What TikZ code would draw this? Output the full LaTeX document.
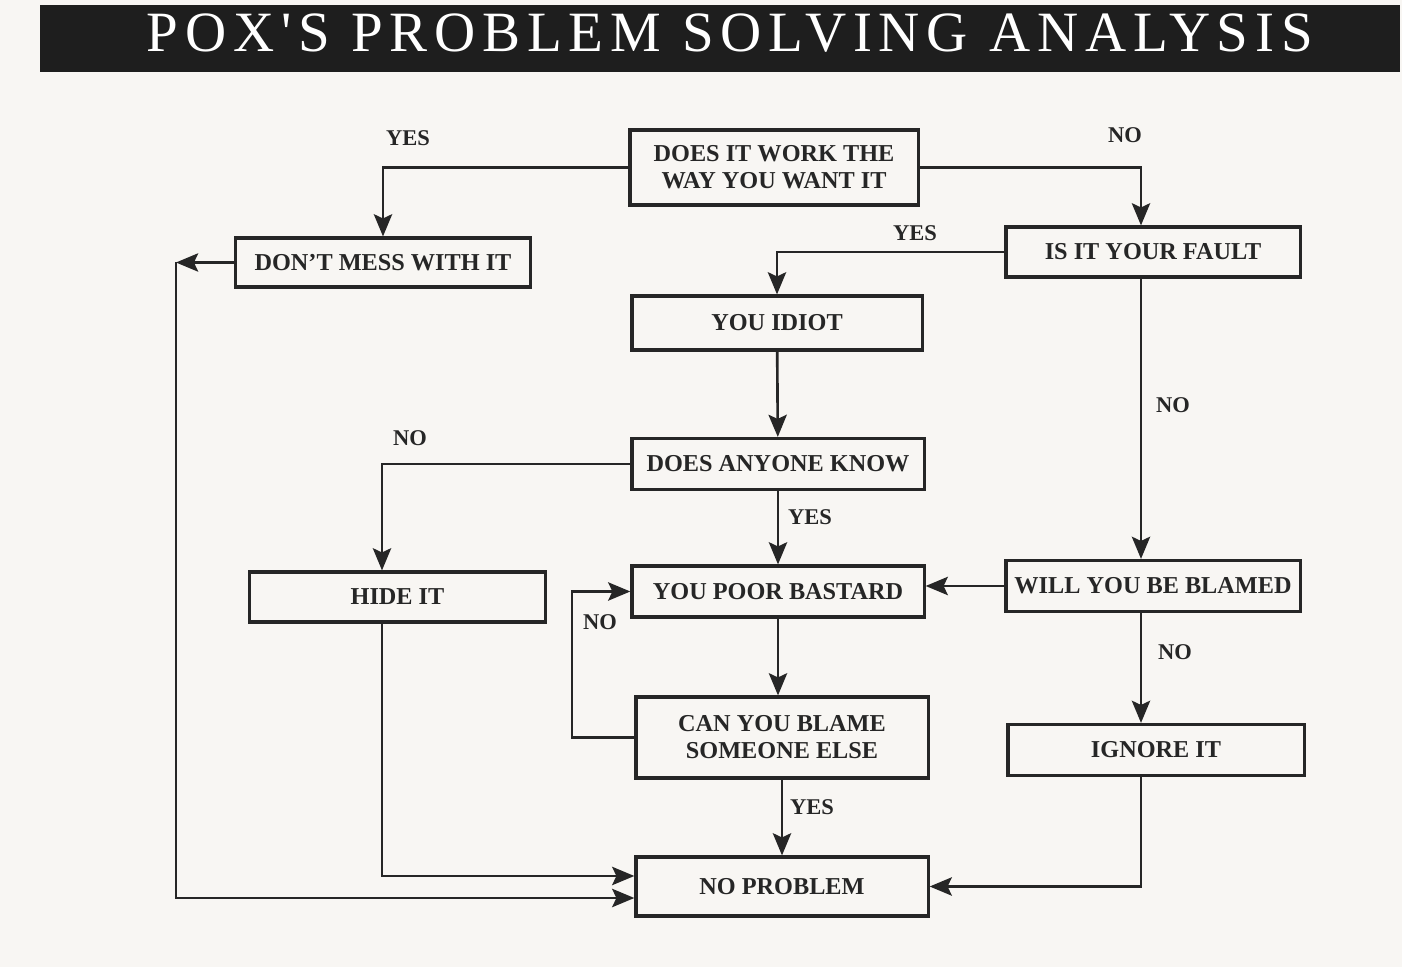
\documentclass[tikz,border=0pt]{standalone}
\usepackage{fontspec}
\setmainfont{Liberation Serif}
\newfontfamily\titlefont[LetterSpace=12]{Liberation Serif}
\usepackage{tikz}
\usetikzlibrary{positioning}
\usetikzlibrary{arrows.meta}
\definecolor{ink}{HTML}{262626}
\definecolor{paper}{HTML}{F8F6F3}

\begin{document}
\begin{tikzpicture}[x=0.01cm,y=-0.01cm]
    \fill[paper] (0,0) rectangle (1402,967);
    \useasboundingbox (0,0) rectangle (1402,967);
    %Title
    \fill[ink!80!black] (40,5) rectangle (1400,72);
    \node[text=white,anchor=base,inner sep=0pt,font=\titlefont\fontsize{16.2}{20}\selectfont] (title) at (730,52) {POX'S PROBLEM SOLVING ANALYSIS};
    \coordinate (lcol) at (382,0);
    \coordinate (rcol) at (1141,0);
    \coordinate (back) at (572,0);
    \coordinate (fcol) at (176,0);
    \begin{scope}[every node/.style={draw=ink,line width=0.9pt,text=ink,align=center,inner sep=0pt,
        minimum width=2.92cm,minimum height=0.51cm,font=\bfseries\fontsize{6.9}{7.7}\selectfont}]
        \node(work) at (774,167.5) [minimum width=2.88cm,minimum height=0.75cm] {DOES IT WORK THE\\WAY YOU WANT IT};
        \node(mess) at (383,262.5) [minimum width=2.94cm,minimum height=0.49cm] {DON'T MESS WITH IT};
        \node(fault) at (1153,252) [minimum width=2.94cm,minimum height=0.5cm] {IS IT YOUR FAULT};
        \node(idiot) at (777,323) [minimum width=2.9cm,minimum height=0.54cm] {YOU IDIOT};
        \node(anyone) at (778,464) {DOES ANYONE KNOW};
        \node(hide) at (397.5,597) [minimum width=2.95cm,minimum height=0.5cm] {HIDE IT};
        \node(bastard) at (778,591.5) {YOU POOR BASTARD};
        \node(blamed) at (1153,586) [minimum width=2.94cm] {WILL YOU BE BLAMED};
        \node(blame) at (782,737.5) [minimum height=0.81cm] {CAN YOU BLAME\\SOMEONE ELSE};
        \node(ignore) at (1156,750) [minimum width=2.96cm] {IGNORE IT};
        \node(noprob) at (782,886.5) [minimum height=0.59cm] {NO PROBLEM};
    \end{scope}
    %Lines
    \begin{scope}[>={Stealth[length=6.3pt,width=5.2pt,inset=1.2pt]}, line width=0.75pt, draw=ink,
        every node/.style={text=ink,font=\bfseries\fontsize{6.4}{7}\selectfont}]
        \draw[->] (work.west) -| (mess.north);
        \draw[->] (work.east) -| (rcol |- fault.north);
        \draw[->] (fault.west) -| (idiot.north);
        \draw[->] (idiot) -- (anyone);
        \draw[->] (rcol |- fault.south) -- (rcol |- blamed.north);
        \draw[->] (anyone.west) -| (lcol |- hide.north);
        \draw[->] (anyone) -- (bastard);
        \draw[->] (blamed.west) -- (blamed.west -| bastard.east);
        \draw[->] (rcol |- blamed.south) -- (rcol |- ignore.north);
        \draw[->] (bastard.south) -- (bastard.south |- blame.north);
        \draw[->] (blame.west) -| (back |- bastard.west) -- (bastard.west);
        \draw[->] (blame) -- (noprob);
        \draw[->] (rcol |- ignore.south) |- (noprob.east);
        \draw[->] (lcol |- hide.south) |- ([yshift=0.105cm]noprob.west);
        \draw[->] (mess.west) -- (fcol |- mess.west);
        \draw[->] (fcol |- mess.west) |- ([yshift=-0.115cm]noprob.west);
        \node(yes1) at (408,138) {YES};
        \node(no1) at (1125,135) {NO};
        \node(yes2) at (915,233) {YES};
        \node(no2) at (1173,405) {NO};
        \node(no3) at (410,438) {NO};
        \node(yes3) at (810,517) {YES};
        \node(no4) at (1175,652) {NO};
        \node(no5) at (600,622) {NO};
        \node(yes4) at (812,807) {YES};
    \end{scope}
\end{tikzpicture}
\end{document}
